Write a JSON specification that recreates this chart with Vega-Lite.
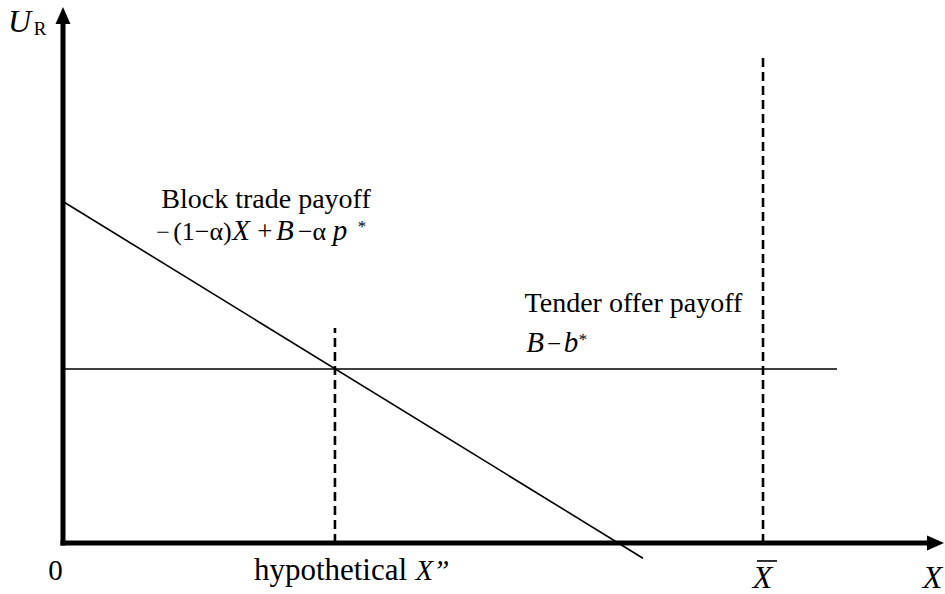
{
  "$schema": "https://vega.github.io/schema/vega-lite/v6.json",
  "width": 877,
  "height": 543,
  "autosize": "none",
  "padding": {"left": 63, "top": 0, "right": 5, "bottom": 51},
  "background": "white",
  "config": {"view": {"stroke": null}},
  "datasets": {
    "segments": [
      {"kind": "solid", "x": 0, "y": 62.9, "x2": 66.13, "y2": -2.8},
      {"kind": "solid", "x": 0, "y": 32.04, "x2": 88.26, "y2": 32.04},
      {"kind": "solid", "x": 79.13, "y": -3.31, "x2": 81.41, "y2": -3.31},
      {"kind": "dashed", "x": 31.01, "y": 0, "x2": 31.01, "y2": 39.59},
      {"kind": "dashed", "x": 79.82, "y": 0, "x2": 79.82, "y2": 90.24},
      {"kind": "axis", "x": 0, "y": 0, "x2": 0, "y2": 96},
      {"kind": "axis", "x": 0, "y": 0, "x2": 98.3, "y2": 0}
    ],
    "arrows": [
      {"dir": "up", "x": 0, "y": 97.14},
      {"dir": "right", "x": 99.49, "y": 0}
    ],
    "labels": [
      {"style": "italic", "label": "U", "x": -4.96, "y": 94.11, "size": 32},
      {"style": "normal", "label": "R", "x": -2.62, "y": 93.55, "size": 19},
      {"style": "normal", "label": "0", "x": -0.855, "y": -6.81, "size": 29},
      {"style": "normal", "label": "hypothetical", "x": 30.5, "y": -6.81, "size": 31},
      {"style": "italic", "label": "X”", "x": 42.13, "y": -6.81, "size": 29},
      {"style": "italic", "label": "X", "x": 79.76, "y": -8.29, "size": 32},
      {"style": "italic", "label": "X", "x": 99.14, "y": -8.29, "size": 32},
      {"style": "normal", "label": "Block trade payoff", "x": 23.15, "y": 61.69, "size": 28},
      {"style": "normal", "label": "−", "x": 11.4, "y": 55.8, "size": 24},
      {"style": "normal", "label": "(1−α)", "x": 15.9, "y": 55.8, "size": 26},
      {"style": "italic", "label": "X", "x": 20.3, "y": 55.8, "size": 29},
      {"style": "normal", "label": "+", "x": 23.03, "y": 55.8, "size": 27},
      {"style": "italic", "label": "B", "x": 25.31, "y": 55.8, "size": 29},
      {"style": "normal", "label": "−α", "x": 28.4, "y": 55.8, "size": 26},
      {"style": "italic", "label": "p", "x": 31.58, "y": 55.8, "size": 29},
      {"style": "normal", "label": "*", "x": 34.09, "y": 57.27, "size": 17},
      {"style": "normal", "label": "Tender offer payoff", "x": 65.05, "y": 42.54, "size": 28},
      {"style": "italic", "label": "B", "x": 53.82, "y": 35.17, "size": 29},
      {"style": "normal", "label": "−", "x": 55.99, "y": 35.17, "size": 25},
      {"style": "italic", "label": "b", "x": 57.92, "y": 35.17, "size": 29},
      {"style": "normal", "label": "*", "x": 59.29, "y": 36.46, "size": 17}
    ]
  },
  "encoding": {
    "x": {"field": "x", "type": "quantitative", "scale": {"domain": [0, 100], "nice": false, "zero": false}, "axis": null},
    "y": {"field": "y", "type": "quantitative", "scale": {"domain": [0, 100], "nice": false, "zero": false}, "axis": null}
  },
  "layer": [
    {
      "data": {"name": "segments"},
      "transform": [{"filter": "datum.kind === 'solid'"}],
      "mark": {"type": "rule", "color": "black", "strokeWidth": 1.6},
      "encoding": {"x2": {"field": "x2"}, "y2": {"field": "y2"}}
    },
    {
      "data": {"name": "segments"},
      "transform": [{"filter": "datum.kind === 'dashed'"}],
      "mark": {"type": "rule", "color": "black", "strokeWidth": 2.6, "strokeDash": [9, 5]},
      "encoding": {"x2": {"field": "x2"}, "y2": {"field": "y2"}}
    },
    {
      "data": {"name": "segments"},
      "transform": [{"filter": "datum.kind === 'axis'"}],
      "mark": {"type": "rule", "color": "black", "strokeWidth": 5, "strokeCap": "square"},
      "encoding": {"x2": {"field": "x2"}, "y2": {"field": "y2"}}
    },
    {
      "data": {"name": "arrows"},
      "transform": [{"filter": "datum.dir === 'up'"}],
      "mark": {"type": "point", "shape": "M0,-1L0.88,1L-0.88,1Z", "size": 289, "filled": true, "color": "black", "opacity": 1, "strokeWidth": 0}
    },
    {
      "data": {"name": "arrows"},
      "transform": [{"filter": "datum.dir === 'right'"}],
      "mark": {"type": "point", "shape": "M1,0L-1,-0.88L-1,0.88Z", "size": 289, "filled": true, "color": "black", "opacity": 1, "strokeWidth": 0}
    },
    {
      "data": {"name": "labels"},
      "transform": [{"filter": "datum.style === 'normal'"}],
      "mark": {"type": "text", "align": "center", "baseline": "alphabetic", "font": "'Liberation Serif', 'Times New Roman', serif", "color": "black"},
      "encoding": {"text": {"field": "label"}, "size": {"field": "size", "type": "quantitative", "scale": null}}
    },
    {
      "data": {"name": "labels"},
      "transform": [{"filter": "datum.style === 'italic'"}],
      "mark": {"type": "text", "align": "center", "baseline": "alphabetic", "font": "'Liberation Serif', 'Times New Roman', serif", "fontStyle": "italic", "color": "black"},
      "encoding": {"text": {"field": "label"}, "size": {"field": "size", "type": "quantitative", "scale": null}}
    }
  ]
}
